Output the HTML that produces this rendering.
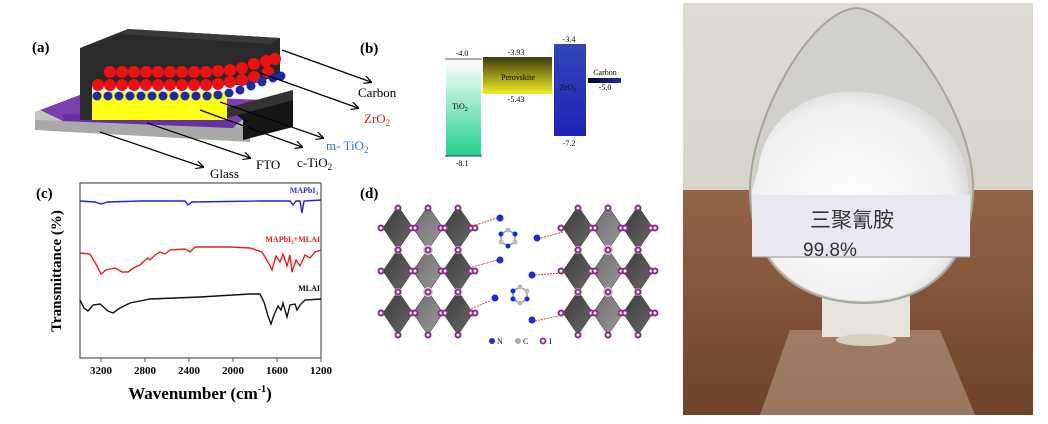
<!DOCTYPE html>
<html><head><meta charset="utf-8"><style>
html,body{margin:0;padding:0;background:#fff;}
svg{display:block;}
text{font-family:"Liberation Serif",serif;}
</style></head><body>
<svg width="1048" height="424" viewBox="0 0 1048 424" xmlns="http://www.w3.org/2000/svg">
<defs>
<linearGradient id="gT" x1="0" y1="0" x2="0" y2="1"><stop offset="0" stop-color="#ffffff"/><stop offset="1" stop-color="#1fd08c"/></linearGradient>
<linearGradient id="gP" x1="0" y1="0" x2="0" y2="1"><stop offset="0" stop-color="#3d3a10"/><stop offset="1" stop-color="#f2ee20"/></linearGradient>
<linearGradient id="gZ" x1="0" y1="0" x2="0" y2="1"><stop offset="0" stop-color="#3346b8"/><stop offset="1" stop-color="#1c23b8"/></linearGradient>
<linearGradient id="gC" x1="0" y1="0" x2="1" y2="0"><stop offset="0" stop-color="#000022"/><stop offset="1" stop-color="#2030a0"/></linearGradient>
<linearGradient id="wall" x1="0" y1="0" x2="0" y2="1"><stop offset="0" stop-color="#dedbd5"/><stop offset="1" stop-color="#cfcbc3"/></linearGradient>
<linearGradient id="table" x1="0" y1="0" x2="0" y2="1"><stop offset="0" stop-color="#946446"/><stop offset="1" stop-color="#6e432a"/></linearGradient>
<radialGradient id="powder" cx="0.45" cy="0.55" r="0.6"><stop offset="0" stop-color="#ffffff"/><stop offset="0.8" stop-color="#f0f0f0"/><stop offset="1" stop-color="#d4d4d4"/></radialGradient>
<linearGradient id="oct" x1="0" y1="0" x2="1" y2="1"><stop offset="0" stop-color="#3a3a3a"/><stop offset="1" stop-color="#6a6a6a"/></linearGradient>
<linearGradient id="oct2" x1="0" y1="0" x2="1" y2="1"><stop offset="0" stop-color="#6c6c6c"/><stop offset="1" stop-color="#9a9a9a"/></linearGradient>
<marker id="ar" markerWidth="8" markerHeight="8" refX="7" refY="4" orient="auto" markerUnits="userSpaceOnUse"><path d="M0,0 L8,4 L0,8" fill="none" stroke="#000" stroke-width="1.2"/></marker>
</defs>

<!-- (a) -->
<text x="32" y="52" font-size="15" font-weight="bold">(a)</text>
<polygon points="35,112 80,98 250,112 250,142 35,130" fill="#a8a8a8"/>
<polygon points="35,112 80,98 250,112 243,126 35,120" fill="#c4c4c4"/>
<polygon points="40,110 85,93 265,100 233,128 63,121" fill="#7a3fb0"/>
<polygon points="63,121 233,128 233,120 63,114" fill="#6a2fa0"/>
<polygon points="80,48 128,29 280,38 280,75 250,85 92,85 92,120 80,120" fill="#2a2a2a"/>
<polygon points="128,29 280,38 270,44 120,34" fill="#3a3a3a"/>
<rect x="92" y="92" width="135" height="28" fill="#ffff10"/>
<polygon points="227,108 293,90 293,127 243,140 243,120" fill="#151515"/>
<polygon points="227,108 293,90 293,100 227,118" fill="#333"/>
<g fill="#ee1111">
<circle cx="110" cy="72" r="6"/><circle cx="122" cy="72" r="6"/><circle cx="134" cy="72" r="6"/><circle cx="146" cy="72" r="6"/><circle cx="158" cy="72" r="6"/><circle cx="170" cy="72" r="6"/><circle cx="182" cy="72" r="6"/><circle cx="194" cy="72" r="6"/><circle cx="206" cy="72" r="6"/><circle cx="218" cy="71" r="6"/><circle cx="230" cy="70" r="6"/><circle cx="242" cy="68" r="6"/><circle cx="254" cy="64" r="6"/><circle cx="266" cy="61" r="6"/><circle cx="275" cy="59" r="6"/>
<circle cx="98" cy="85" r="6"/><circle cx="110" cy="85" r="6"/><circle cx="122" cy="85" r="6"/><circle cx="134" cy="85" r="6"/><circle cx="146" cy="85" r="6"/><circle cx="158" cy="85" r="6"/><circle cx="170" cy="85" r="6"/><circle cx="182" cy="85" r="6"/><circle cx="194" cy="85" r="6"/><circle cx="206" cy="85" r="6"/><circle cx="218" cy="84" r="6"/><circle cx="230" cy="82" r="6"/><circle cx="242" cy="80" r="6"/><circle cx="254" cy="77" r="6"/><circle cx="268" cy="72" r="6"/>
</g>
<g fill="#1a2bb0">
<circle cx="97" cy="96" r="4.5"/><circle cx="108" cy="96" r="4.5"/><circle cx="119" cy="96" r="4.5"/><circle cx="130" cy="96" r="4.5"/><circle cx="141" cy="96" r="4.5"/><circle cx="152" cy="96" r="4.5"/><circle cx="163" cy="96" r="4.5"/><circle cx="174" cy="96" r="4.5"/><circle cx="185" cy="96" r="4.5"/><circle cx="196" cy="96" r="4.5"/><circle cx="207" cy="96" r="4.5"/><circle cx="218" cy="95" r="4.5"/><circle cx="229" cy="93" r="4.5"/><circle cx="240" cy="90" r="4.5"/><circle cx="251" cy="86" r="4.5"/><circle cx="262" cy="82" r="4.5"/><circle cx="273" cy="78" r="4.5"/><circle cx="281" cy="76" r="4.5"/>
</g>
<g stroke="#000" stroke-width="1.2" marker-end="url(#ar)">
<line x1="282" y1="50" x2="371" y2="82"/>
<line x1="260" y1="73" x2="358" y2="108"/>
<line x1="220" y1="102" x2="323" y2="138"/>
<line x1="200" y1="110" x2="302" y2="147"/>
<line x1="147" y1="123" x2="250" y2="158"/>
<line x1="100" y1="132" x2="203" y2="167"/>
</g>
<text x="358" y="97" font-size="13">Carbon</text>
<text x="364" y="123" font-size="13" fill="#e21a1a">ZrO<tspan font-size="9" dy="3">2</tspan></text>
<text x="326" y="150" font-size="13" fill="#2a7ac8">m- TiO<tspan font-size="9" dy="3">2</tspan></text>
<text x="297" y="167" font-size="13">c-TiO<tspan font-size="9" dy="3">2</tspan></text>
<text x="256" y="169" font-size="13">FTO</text>
<text x="210" y="178" font-size="13">Glass</text>

<!-- (b) -->
<text x="360" y="53" font-size="15" font-weight="bold">(b)</text>
<rect x="446" y="59" width="35" height="97" fill="url(#gT)"/>
<line x1="445" y1="59" x2="482" y2="59" stroke="#555" stroke-width="1"/>
<line x1="445" y1="156" x2="482" y2="156" stroke="#333" stroke-width="1"/>
<rect x="483" y="57" width="69" height="37" fill="url(#gP)"/>
<rect x="554" y="44" width="32" height="92" fill="url(#gZ)"/>
<rect x="588" y="78" width="33" height="5" fill="url(#gC)"/>
<g font-size="8" text-anchor="middle">
<text x="462" y="56">-4.0</text><text x="516" y="55">-3.93</text><text x="569" y="42">-3.4</text>
<text x="605" y="75">Carbon</text><text x="605" y="90">-5.0</text><text x="516" y="102">-5.43</text>
<text x="569" y="146">-7.2</text><text x="462" y="166">-8.1</text>
<text x="460" y="109">TiO<tspan font-size="6" dy="2">2</tspan></text>
<text x="518" y="80">Perovskite</text>
<text x="568" y="90" fill="#112">ZrO<tspan font-size="6" dy="2">2</tspan></text>
</g>

<!-- (c) -->
<text x="36" y="198" font-size="15" font-weight="bold">(c)</text>
<rect x="80" y="183" width="241" height="175" fill="none" stroke="#555" stroke-width="1.2"/>
<g stroke="#555" stroke-width="1">
<line x1="101" y1="358" x2="101" y2="362"/><line x1="145" y1="358" x2="145" y2="362"/><line x1="189" y1="358" x2="189" y2="362"/><line x1="233" y1="358" x2="233" y2="362"/><line x1="277" y1="358" x2="277" y2="362"/><line x1="321" y1="358" x2="321" y2="362"/>
</g>
<g font-size="11" font-weight="bold" text-anchor="middle">
<text x="101" y="374">3200</text><text x="145" y="374">2800</text><text x="189" y="374">2400</text><text x="233" y="374">2000</text><text x="277" y="374">1600</text><text x="321" y="374">1200</text>
</g>
<text x="200" y="399" font-size="17" font-weight="bold" text-anchor="middle">Wavenumber (cm<tspan font-size="10" dy="-7">-1</tspan><tspan dy="7">)</tspan></text>
<text transform="translate(61,271) rotate(-90)" font-size="15" font-weight="bold" text-anchor="middle">Transmittance (%)</text>
<path d="M80,201 L95,202 L101,204 L108,202 L140,201 L185,201 L188,205 L192,202 L260,201 L290,201 L293,205 L296,201 L300,201 L302,213 L304,201 L321,200" fill="none" stroke="#2020e0" stroke-width="1.4"/>
<path d="M80,253 L90,254 L97,266 L101,274 L106,270 L115,268 L122,272 L128,272 L135,267 L140,265 L143,262 L148,258 L150,260 L155,255 L160,252 L165,254 L170,250 L185,249 L190,252 L195,247 L230,247 L250,248 L262,252 L268,262 L272,270 L276,256 L280,262 L283,254 L287,266 L290,255 L292,272 L296,260 L300,266 L305,255 L310,258 L315,252 L321,250" fill="none" stroke="#e82020" stroke-width="1.4"/>
<path d="M80,300 L84,308 L88,311 L93,305 L100,304 L108,311 L113,313 L120,308 L130,303 L150,299 L200,297 L250,294 L260,294 L264,302 L268,316 L271,324 L274,315 L278,306 L281,310 L283,303 L287,317 L290,305 L295,304 L297,310 L300,305 L305,300 L321,299" fill="none" stroke="#111" stroke-width="1.4"/>
<text x="318" y="193" font-size="8" font-weight="bold" fill="#2a2ae0" text-anchor="end">MAPbI<tspan font-size="5" dy="2">3</tspan></text>
<text x="320" y="242" font-size="8" font-weight="bold" fill="#e02020" text-anchor="end">MAPbI<tspan font-size="5" dy="2">3</tspan><tspan dy="-2">+MLAI</tspan></text>
<text x="320" y="291" font-size="8" font-weight="bold" text-anchor="end">MLAI</text>

<!-- (d) -->
<text x="360" y="198" font-size="15" font-weight="bold">(d)</text>
<g id="lat">
<g stroke="#222" stroke-width="0.5">
<polygon points="398,206 413,228 398,250 383,228" fill="url(#oct)"/>
<polygon points="428,206 443,228 428,250 413,228" fill="url(#oct2)"/>
<polygon points="458,206 473,228 458,250 443,228" fill="url(#oct)"/>
<polygon points="398,249 413,271 398,293 383,271" fill="url(#oct)"/>
<polygon points="428,249 443,271 428,293 413,271" fill="url(#oct2)"/>
<polygon points="458,249 473,271 458,293 443,271" fill="url(#oct)"/>
<polygon points="398,291 413,313 398,335 383,313" fill="url(#oct)"/>
<polygon points="428,291 443,313 428,335 413,313" fill="url(#oct2)"/>
<polygon points="458,291 473,313 458,335 443,313" fill="url(#oct)"/>
</g>
<g fill="#e0c8c8"><circle cx="398" cy="250" r="4"/><circle cx="428" cy="250" r="5"/><circle cx="458" cy="250" r="4"/><circle cx="398" cy="292" r="4"/><circle cx="428" cy="292" r="5"/><circle cx="458" cy="292" r="4"/></g>
<g fill="#fff" stroke="#8a2a8a" stroke-width="2">
<circle cx="398" cy="208" r="2.5"/><circle cx="428" cy="208" r="2.5"/><circle cx="458" cy="208" r="2.5"/>
<circle cx="398" cy="250" r="2.5"/><circle cx="428" cy="250" r="2.5"/><circle cx="458" cy="250" r="2.5"/>
<circle cx="398" cy="292" r="2.5"/><circle cx="428" cy="292" r="2.5"/><circle cx="458" cy="292" r="2.5"/>
<circle cx="398" cy="335" r="2.5"/><circle cx="428" cy="335" r="2.5"/><circle cx="458" cy="335" r="2.5"/>
<circle cx="381" cy="228" r="2.5"/><circle cx="411" cy="228" r="2.5"/><circle cx="415" cy="228" r="2.5"/><circle cx="441" cy="228" r="2.5"/><circle cx="445" cy="228" r="2.5"/><circle cx="471" cy="228" r="2.5"/><circle cx="475" cy="228" r="2.5"/>
<circle cx="381" cy="271" r="2.5"/><circle cx="411" cy="271" r="2.5"/><circle cx="415" cy="271" r="2.5"/><circle cx="441" cy="271" r="2.5"/><circle cx="445" cy="271" r="2.5"/><circle cx="471" cy="271" r="2.5"/><circle cx="475" cy="271" r="2.5"/>
<circle cx="381" cy="313" r="2.5"/><circle cx="411" cy="313" r="2.5"/><circle cx="415" cy="313" r="2.5"/><circle cx="441" cy="313" r="2.5"/><circle cx="445" cy="313" r="2.5"/><circle cx="471" cy="313" r="2.5"/><circle cx="475" cy="313" r="2.5"/>
</g>
</g>
<use href="#lat" transform="translate(180,0)"/>
<g stroke="#e04040" stroke-width="1" stroke-dasharray="2,1">
<line x1="470" y1="227" x2="497" y2="218"/><line x1="472" y1="267" x2="498" y2="260"/><line x1="463" y1="312" x2="490" y2="301"/>
<line x1="541" y1="238" x2="563" y2="232"/><line x1="535" y1="275" x2="563" y2="273"/><line x1="535" y1="321" x2="563" y2="315"/>
</g>
<g stroke="#999" stroke-width="1.5" fill="none">
<polygon points="508,230 515,234 515,242 508,246 501,242 501,234"/>
<polygon points="520,287 527,291 527,299 520,303 513,299 513,291"/>
</g>
<g fill="#1a2ae0">
<circle cx="500" cy="218" r="3.5"/><circle cx="500" cy="260" r="3.5"/><circle cx="537" cy="238" r="3.5"/>
<circle cx="501" cy="234" r="2.5"/><circle cx="515" cy="234" r="2.5"/><circle cx="508" cy="246" r="2.5"/>
<circle cx="532" cy="275" r="3.5"/><circle cx="532" cy="320" r="3.5"/><circle cx="495" cy="298" r="3.5"/>
<circle cx="513" cy="291" r="2.5"/><circle cx="513" cy="299" r="2.5"/><circle cx="527" cy="299" r="2.5"/>
</g>
<g fill="#bbb"><circle cx="508" cy="230" r="2.5"/><circle cx="501" cy="242" r="2.5"/><circle cx="515" cy="242" r="2.5"/><circle cx="520" cy="287" r="2.5"/><circle cx="527" cy="291" r="2.5"/><circle cx="520" cy="303" r="2.5"/></g>
<circle cx="492" cy="341" r="3" fill="#1a2ae0"/><text x="497" y="344" font-size="8">N</text>
<circle cx="518" cy="341" r="3" fill="#aaa"/><text x="523" y="344" font-size="8">C</text>
<circle cx="543" cy="341" r="2.5" fill="#fff" stroke="#8a2a8a" stroke-width="1.8"/><text x="549" y="344" font-size="8">I</text>

<!-- photo -->
<rect x="683" y="3" width="350" height="412" fill="url(#wall)"/>
<rect x="683" y="190" width="350" height="225" fill="url(#table)"/>
<path d="M790,330 L940,330 L975,415 L760,415 Z" fill="#b89a86" opacity="0.6"/>
<rect x="822" y="292" width="88" height="45" fill="#e6e2dc"/>
<ellipse cx="866" cy="340" rx="30" ry="6" fill="#d8cfbf"/>
<path d="M857,8 C905,14 975,120 973,190 C972,262 930,302 865,303 C795,303 750,262 750,190 C750,120 810,10 857,8 Z" fill="#d2d0ca" stroke="#a8a59c" stroke-width="2"/>
<path d="M758,170 C765,110 820,88 860,92 C910,95 960,120 968,180 C972,262 930,300 865,301 C798,301 752,262 752,190 Z" fill="url(#powder)"/>
<rect x="752" y="195" width="218" height="62" fill="#e8e8f3"/>
<line x1="752" y1="257" x2="970" y2="257" stroke="#999" stroke-width="1"/>
<text x="810" y="227" font-size="21" fill="#333" style="font-family:'Noto Sans CJK SC','WenQuanYi Zen Hei',sans-serif">三聚氰胺</text>
<text x="803" y="256" font-size="19" fill="#333" style="font-family:'Liberation Sans',sans-serif">99.8%</text>
</svg>
</body></html>
